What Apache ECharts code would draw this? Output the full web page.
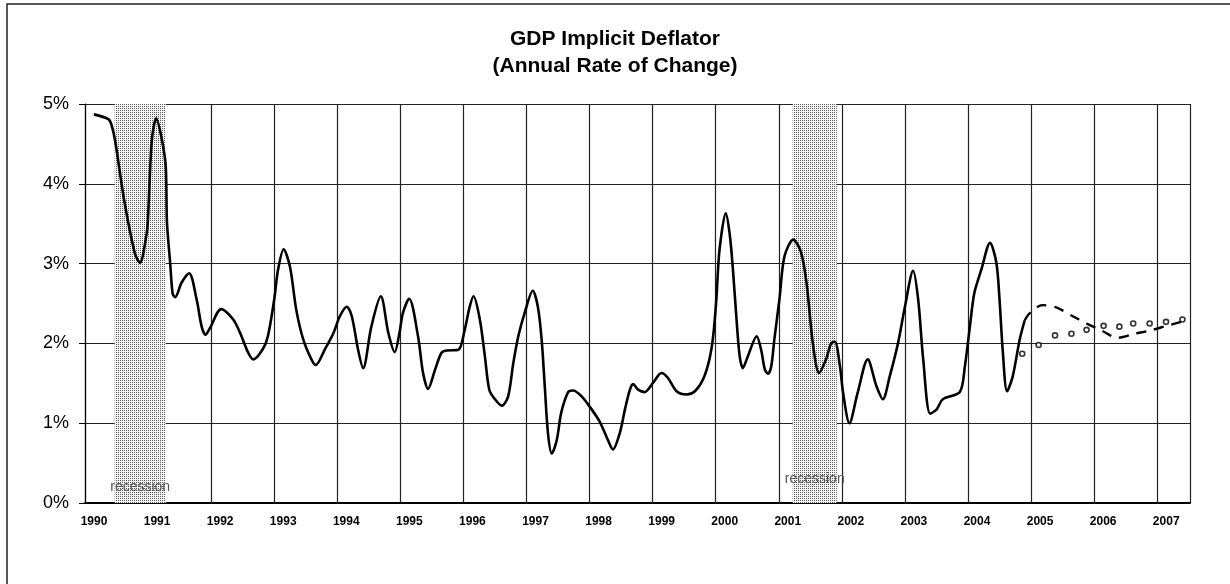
<!DOCTYPE html>
<html>
<head>
<meta charset="utf-8">
<title>GDP Implicit Deflator</title>
<script src="https://cdn.jsdelivr.net/npm/echarts@6/dist/echarts.min.js"></script>
<style>
  html, body { margin: 0; padding: 0; background: #fff; }
  #chart { width: 1230px; height: 584px; }
</style>
</head>
<body>
<div id="chart"></div>
<script>
  // actual series (year, % change)
  const actualYears = [
    1990.14, 1990.37, 1990.42, 1990.48, 1990.62, 1990.79, 1990.87, 1990.98, 1991.00, 1991.06,
    1991.13, 1991.22, 1991.28, 1991.30, 1991.35, 1991.39, 1991.43, 1991.53, 1991.65, 1991.77,
    1991.85, 1991.91, 1991.98, 1992.16, 1992.35, 1992.46, 1992.59, 1992.67, 1992.82, 1992.90,
    1993.00, 1993.06, 1993.15, 1993.25, 1993.35, 1993.46, 1993.59, 1993.66, 1993.80, 1993.94,
    1994.04, 1994.15, 1994.23, 1994.33, 1994.41, 1994.54, 1994.69, 1994.81, 1994.91, 1994.99,
    1995.04, 1995.14, 1995.28, 1995.36, 1995.44, 1995.55, 1995.65, 1995.73, 1995.92, 1996.02,
    1996.10, 1996.16, 1996.26, 1996.34, 1996.41, 1996.50, 1996.61, 1996.71, 1996.79, 1996.87,
    1996.97, 1997.10, 1997.18, 1997.24, 1997.29, 1997.34, 1997.40, 1997.48, 1997.55, 1997.66,
    1997.74, 1997.87, 1998.00, 1998.16, 1998.29, 1998.37, 1998.48, 1998.56, 1998.64, 1998.69,
    1998.77, 1998.87, 1999.01, 1999.14, 1999.24, 1999.38, 1999.54, 1999.67, 1999.80, 1999.90,
    1999.96, 2000.01, 2000.06, 2000.16, 2000.22, 2000.27, 2000.33, 2000.38, 2000.43, 2000.51,
    2000.65, 2000.72, 2000.78, 2000.83, 2000.88, 2000.93, 2001.01, 2001.09, 2001.23, 2001.35,
    2001.44, 2001.54, 2001.64, 2001.75, 2001.83, 2001.89, 2001.97, 2002.02, 2002.12, 2002.25,
    2002.41, 2002.55, 2002.65, 2002.76, 2002.89, 2003.00, 2003.13, 2003.21, 2003.29, 2003.40,
    2003.50, 2003.60, 2003.87, 2003.95, 2004.03, 2004.10, 2004.21, 2004.35, 2004.45, 2004.50,
    2004.55, 2004.62, 2004.71, 2004.82, 2004.90
  ]
  const actualRates = [
    4.87, 4.81, 4.74, 4.53, 3.80, 3.13, 3.01, 3.39, 3.59, 4.55,
    4.82, 4.55, 4.22, 3.51, 3.01, 2.62, 2.58, 2.76, 2.88, 2.55,
    2.21, 2.11, 2.19, 2.43, 2.30, 2.13, 1.88, 1.80, 1.93, 2.09,
    2.55, 2.92, 3.18, 2.96, 2.42, 2.05, 1.80, 1.73, 1.92, 2.13,
    2.34, 2.46, 2.34, 1.92, 1.69, 2.21, 2.59, 2.13, 1.89, 2.15,
    2.38, 2.56, 2.09, 1.63, 1.43, 1.67, 1.88, 1.91, 1.92, 2.17,
    2.46, 2.59, 2.30, 1.84, 1.42, 1.30, 1.22, 1.34, 1.75, 2.09,
    2.38, 2.66, 2.46, 2.05, 1.46, 0.88, 0.62, 0.79, 1.13, 1.39,
    1.41, 1.34, 1.21, 1.02, 0.79, 0.67, 0.88, 1.17, 1.42, 1.49,
    1.42, 1.39, 1.51, 1.63, 1.57, 1.40, 1.36, 1.40, 1.55, 1.80,
    2.09, 2.55, 3.17, 3.63, 3.38, 2.96, 2.30, 1.84, 1.69, 1.84,
    2.09, 1.92, 1.67, 1.62, 1.71, 2.05, 2.55, 3.09, 3.30, 3.15,
    2.76, 2.00, 1.63, 1.80, 2.00, 2.02, 1.71, 1.38, 1.00, 1.38,
    1.80, 1.46, 1.30, 1.59, 2.00, 2.46, 2.91, 2.55, 1.80, 1.12,
    1.17, 1.30, 1.39, 1.71, 2.21, 2.63, 2.92, 3.26, 3.01, 2.55,
    1.92, 1.40, 1.59, 2.05, 2.29
  ]

  // forecast, dashed
  const dashYears = [2004.90, 2004.98, 2005.18, 2005.40, 2005.64, 2005.88, 2006.12, 2006.37, 2006.64, 2006.88, 2007.15, 2007.38]
  const dashRates = [2.29, 2.38, 2.48, 2.45, 2.35, 2.25, 2.16, 2.07, 2.12, 2.16, 2.22, 2.27]

  // forecast, dotted (circles)
  const dotYears = [2004.86, 2005.12, 2005.38, 2005.64, 2005.88, 2006.15, 2006.40, 2006.62, 2006.88, 2007.14, 2007.40]
  const dotRates = [1.87, 1.98, 2.10, 2.12, 2.17, 2.22, 2.21, 2.25, 2.25, 2.27, 2.30]

  // recession spans
  const recessionStart = [1990.47, 2001.22]
  const recessionEnd = [1991.28, 2001.92]

  const pair = (xs, ys) => xs.map((x, i) => [x, ys[i]])

  // stippled grey like the scanned shading
  function stipple() {
    const c = document.createElement('canvas')
    c.width = 2
    c.height = 2
    const g = c.getContext('2d')
    g.fillStyle = '#f4f4f4'
    g.fillRect(0, 0, 2, 2)
    g.fillStyle = '#5a5a5a'
    g.fillRect(0, 0, 1, 1)
    return c
  }

  const FONT = '"Liberation Sans", Arial, sans-serif'
  const labelDist = [9, 17]

  const chart = echarts.init(document.getElementById('chart'))
  chart.setOption({
    animation: false,
    backgroundColor: '#fff',
    textStyle: { fontFamily: FONT },
    title: {
      text: 'GDP Implicit Deflator',
      subtext: '(Annual Rate of Change)',
      left: 'center',
      top: 24,
      itemGap: 6,
      textStyle: { fontFamily: FONT, fontSize: 21, fontWeight: 'bold', color: '#000' },
      subtextStyle: { fontFamily: FONT, fontSize: 21, fontWeight: 'bold', color: '#000' }
    },
    graphic: [{
      type: 'rect',
      silent: true,
      z: -1,
      shape: { x: 7, y: 4, width: 1260, height: 620 },
      style: { fill: 'none', stroke: '#222', lineWidth: 1.5 }
    }],
    grid: { left: 85, right: 40, top: 104, bottom: 81 },
    xAxis: {
      type: 'value',
      min: 1990,
      max: 2007.52,
      interval: 1,
      axisLine: { show: true, lineStyle: { color: '#000', width: 2 } },
      axisTick: { show: false },
      splitLine: { show: true, lineStyle: { color: '#222', width: 1.2 } },
      axisLabel: {
        color: '#000',
        fontSize: 12,
        fontWeight: 'bold',
        margin: 13,
        padding: [0, 0, 0, 18],
        formatter: v => Number.isInteger(v) ? String(v) : ''
      }
    },
    yAxis: {
      type: 'value',
      min: 0,
      max: 5,
      interval: 1,
      axisLine: { show: true, lineStyle: { color: '#000', width: 1.2 } },
      axisTick: { show: true, length: 6, lineStyle: { color: '#000' } },
      splitLine: { show: true, lineStyle: { color: '#222', width: 1.2 } },
      axisLabel: { color: '#000', fontSize: 18, margin: 16, formatter: '{value}%' }
    },
    series: [
      {
        name: 'actual',
        type: 'line',
        data: pair(actualYears, actualRates),
        smooth: 0.3,
        showSymbol: false,
        lineStyle: { color: '#000', width: 2.6 },
        z: 5,
        markArea: {
          silent: true,
          itemStyle: { color: { image: stipple(), repeat: 'repeat' } },
          label: {
            show: true,
            position: 'insideBottom',
            color: '#555',
            fontSize: 14,
            fontFamily: FONT
          },
          data: recessionStart.map((s, i) => [
            { xAxis: s, name: 'recession', label: { distance: labelDist[i] } },
            { xAxis: recessionEnd[i] }
          ])
        }
      },
      {
        name: 'forecast dashed',
        type: 'line',
        data: pair(dashYears, dashRates),
        smooth: 0.3,
        showSymbol: false,
        lineStyle: { color: '#000', width: 2.4, type: [10, 8] },
        z: 4
      },
      {
        name: 'forecast dotted',
        type: 'scatter',
        data: pair(dotYears, dotRates),
        symbol: 'circle',
        symbolSize: 5,
        itemStyle: { color: '#fff', borderColor: '#000', borderWidth: 1.6 },
        z: 4
      }
    ]
  })
</script>
</body>
</html>
